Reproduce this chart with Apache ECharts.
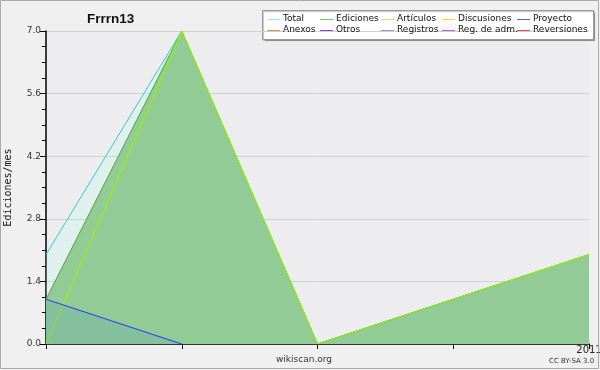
<!DOCTYPE html>
<html><head><meta charset="utf-8">
<script src="https://cdn.jsdelivr.net/npm/echarts@6/dist/echarts.min.js"></script>
<style>html,body{margin:0;padding:0;background:#f0f0f0}#c{width:600px;height:370px}</style>
</head><body><div id="c"></div>
<script>
var categories = ['', '', '', '', '2011'];
var totalValues = [2, 7, 0, 1, 2];
var edicionesValues = [1, 7, 0, 1, 2];
var articulosValues = [0, 7, 0, 1, 2];
var registrosValues = [1, 0, '-', '-', '-'];
var yTicks = [0, 1.4, 2.8, 4.2, 5.6, 7.0];
var legendNames = ['Total','Ediciones','Artículos','Discusiones','Proyecto','Anexos','Otros','Registros','Reg. de adm.','Reversiones'];
var legendColors = ['#a0e4dc','#77c077','#c4f060','#f0d060','#666666','#f08848','#8844dd','#8899ee','#cc55dd','#ee4444'];

var chart = echarts.init(document.getElementById('c'), null, {renderer:'canvas'});

var legendX = [267, 320, 381, 442, 517];
var legendY = [19.5, 30.5];
var legendGraphics = [{
  type:'rect', shape:{x:262.5, y:10.5, width:331, height:29},
  style:{fill:'#ffffff', stroke:'#999999', lineWidth:1, shadowColor:'rgba(0,0,0,0.25)', shadowOffsetX:1, shadowOffsetY:1, shadowBlur:1}
}];
legendNames.forEach(function(n, i){
  var col = i % 5, row = Math.floor(i / 5);
  var x = legendX[col], y = legendY[row];
  legendGraphics.push({type:'line', z:2, shape:{x1:x, y1:y, x2:x+13, y2:y}, style:{stroke:legendColors[i], lineWidth:1}});
  legendGraphics.push({type:'text', z:2, x:x+16, y:y - 0.5, style:{text:n, fill:'#111', fontFamily:'DejaVu Sans', fontSize:9, verticalAlign:'middle', align:'left'}});
});

var option = {
  backgroundColor:'#f0f0f0',
  animation:false,
  title:{text:'Frrrn13', left:82, top:7, textStyle:{fontFamily:'Liberation Sans', fontWeight:'bold', fontSize:13.5, color:'#111'}},
  grid:{left:46, right:11, top:31, bottom:26, show:true, backgroundColor:'#ededf0', borderWidth:0, containLabel:false, outerBoundsMode:'none'},
  xAxis:{type:'category', data:categories, boundaryGap:false,
    axisLine:{lineStyle:{color:'#000', width:1.5}},
    axisTick:{show:true, length:5, inside:false, lineStyle:{color:'#000'}},
    axisLabel:{show:true, interval:0, color:'#222', fontFamily:'DejaVu Sans', fontSize:10, margin:1, verticalAlign:'top'},
    splitLine:{show:false}
  },
  yAxis:{type:'value', min:0, max:7, interval:1.4,
    name:'Ediciones/mes', nameLocation:'middle', nameGap:33, nameRotate:90,
    nameTextStyle:{fontFamily:'DejaVu Sans Mono', fontSize:10, color:'#111'},
    axisLine:{show:true, lineStyle:{color:'#000', width:1.5}},
    axisTick:{show:true, length:6, lineStyle:{color:'#000'}},
    minorTick:{show:true, splitNumber:4, length:4, lineStyle:{color:'#000'}},
    axisLabel:{formatter:function(v){return v.toFixed(1);}, color:'#333', fontFamily:'DejaVu Sans', fontSize:9, margin:5},
    splitLine:{show:true, lineStyle:{color:'#d0d0d3', width:1}}
  },
  series:[
    {name:legendNames[0], type:'line', data:totalValues, symbol:'none', z:1,
     lineStyle:{color:'#33cccc', width:1}, itemStyle:{color:'#33cccc'},
     areaStyle:{color:'rgba(175,250,225,0.3)', origin:'start'}},
    {name:legendNames[1], type:'line', data:edicionesValues, symbol:'none', z:2,
     lineStyle:{color:'#44aa44', width:1}, itemStyle:{color:'#44aa44'},
     areaStyle:{color:'#93cb97', opacity:1, origin:'start'}},
    {name:legendNames[2], type:'line', data:articulosValues, symbol:'none', z:3,
     lineStyle:{color:'#99ee11', width:1.2}, itemStyle:{color:'#99ee11'}},
    {name:legendNames[7], type:'line', data:registrosValues, symbol:'none', z:4,
     lineStyle:{color:'#3344ee', width:1.2}, itemStyle:{color:'#3344ee'},
     areaStyle:{color:'rgba(52,128,196,0.22)', origin:'start'}}
  ],
  graphic:[
    {type:'rect', shape:{x:0.5, y:0.5, width:598, height:368}, style:{fill:null, stroke:'#aaaaaa', lineWidth:1}, z:100},
    {type:'text', x:276, y:355, style:{text:'wikiscan.org', fill:'#333', fontFamily:'DejaVu Sans', fontSize:9}},
    {type:'text', x:549, y:358, style:{text:'CC BY-SA 3.0', fill:'#333', fontFamily:'DejaVu Sans', fontSize:7}},
    {type:'group', children:legendGraphics, z:50}
  ]
};
chart.setOption(option);
</script>
</body></html>
